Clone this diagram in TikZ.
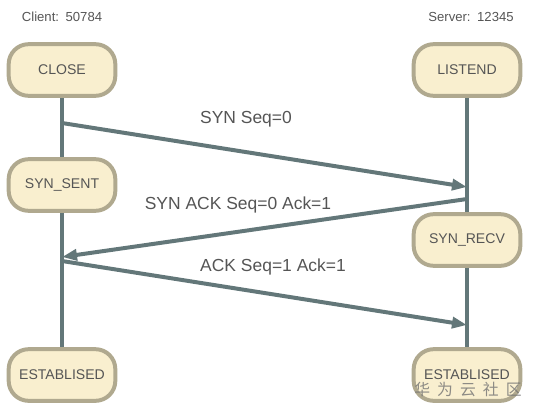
\documentclass[tikz,border=0pt]{standalone}
\usepackage{fontspec}
\setmainfont{Liberation Sans}
\newfontfamily\cjk{Noto Sans CJK SC}
\usepackage{xcolor}
\usetikzlibrary{positioning, arrows.meta}

\definecolor{boxfill}{HTML}{F9EFCF}
\definecolor{boxline}{HTML}{B0A98F}
\definecolor{flowline}{HTML}{637779}
\definecolor{labeltext}{HTML}{555555}

\begin{document}
\begin{tikzpicture}[
x=0.03cm, y=-0.03cm,
state/.style={rectangle, draw=boxline, fill=boxfill, line width=3.4pt, rounded corners=0.6cm, minimum width=3.2cm, minimum height=1.55cm, align=center, text=labeltext, font=\fontsize{12}{14}\selectfont},
head/.style={text=labeltext, font=\fontsize{11.2}{13}\selectfont},
life/.style={draw=flowline, line width=3.4pt},
arrow/.style={-{Triangle[length=0.45cm, width=0.33cm]}, draw=flowline, line width=3.4pt},
msg/.style={text=labeltext, font=\fontsize{14.9}{17}\selectfont}
]
\useasboundingbox (0,0) rectangle (535,415);

% states, client side
\node[state] (hs_close) at (62,70) {CLOSE};
\node[state] (hs_sent) at (62,185) {SYN\_SENT};
\node[state] (hs_estc) at (62,375) {ESTABLISED};

% states, server side
\node[state] (hs_listen) at (467,70) {LISTEND};
\node[state] (hs_recv) at (467,240) {SYN\_RECV};
\node[state] (hs_ests) at (467,375) {ESTABLISED};

\node[head] (hs_client) at (62,17) {Client:\enspace 50784};
\node[head] (hs_server) at (471,17) {Server:\enspace 12345};

% lifelines
\draw[life] (hs_close) -- (hs_sent);
\draw[life] (hs_sent) -- (hs_estc);
\draw[life] (hs_listen) -- (hs_recv);
\draw[life] (hs_recv) -- (hs_ests);

% message points on the lifelines
\coordinate (c_syn) at (62,123);
\coordinate (s_syn) at (467,187);
\coordinate (s_synack) at (467,199);
\coordinate (c_synack) at (62,257);
\coordinate (c_ack) at (62,261);
\coordinate (s_ack) at (467,325);

\draw[arrow] (c_syn) -- (s_syn);
\draw[arrow] (s_synack) -- (c_synack);
\draw[arrow] (c_ack) -- (s_ack);

\node[msg] (m_syn) at (246,119) {SYN Seq=0};
\node[msg] (m_synack) at (238,205) {SYN ACK Seq=0 Ack=1};
\node[msg] (m_ack) at (273,267) {ACK Seq=1 Ack=1};

\node[text=black!55, opacity=0.8, font=\cjk\fontsize{13.5}{15}\selectfont] (mark) at (468,389) {华\hspace{6pt}为\hspace{6pt}云\hspace{6pt}社\hspace{6pt}区};

\end{tikzpicture}
\end{document}
